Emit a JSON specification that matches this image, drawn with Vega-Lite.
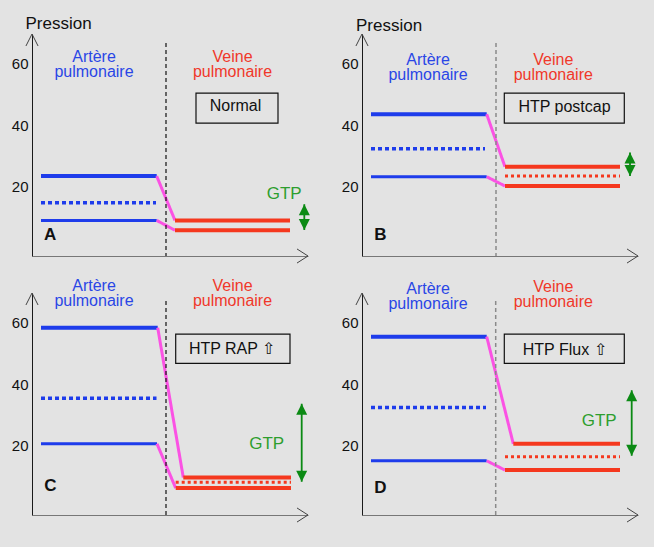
{
  "$schema": "https://vega.github.io/schema/vega-lite/v6.json",
  "background": "#e3e3e3",
  "padding": {"left": 11, "top": 15, "right": 15, "bottom": 25},
  "config": {"view": {"stroke": null}, "font": "Liberation Sans",
             "header": {"labels": false, "title": null, "labelFontSize": 0, "labelPadding": 0, "titlePadding": 0, "labelExpr": "''"},
             "headerFacet": {"labels": false, "title": null, "labelFontSize": 0, "labelPadding": 0, "titlePadding": 0, "labelExpr": "''"}},
  "data": {"values": [
    {"panel": "A", "type": "ligne", "serie": "sys", "x": 9, "x2": 124.7, "y": 23.5, "y2": 23.5},
    {"panel": "A", "type": "ligne", "serie": "moy", "x": 9, "x2": 124, "y": 14.9, "y2": 14.9},
    {"panel": "A", "type": "ligne", "serie": "dia", "x": 9, "x2": 124.7, "y": 9.2, "y2": 9.2},
    {"panel": "A", "type": "ligne", "serie": "trans", "x": 124.7, "x2": 143, "y": 23.5, "y2": 9.2},
    {"panel": "A", "type": "ligne", "serie": "trans", "x": 124.7, "x2": 143, "y": 9.2, "y2": 6.0},
    {"panel": "A", "type": "ligne", "serie": "v_haut", "x": 143, "x2": 258, "y": 9.2, "y2": 9.2},
    {"panel": "A", "type": "ligne", "serie": "v_bas", "x": 143, "x2": 258, "y": 6.0, "y2": 6.0},
    {"panel": "A", "type": "ligne", "serie": "sep_noir", "x": 134, "x2": 134, "y": 66.5, "y2": -2.3},
    {"panel": "A", "type": "ligne", "serie": "gtp", "x": 272.3, "x2": 272.3, "y": 14.4, "y2": 6.1},
    {"panel": "B", "type": "ligne", "serie": "sys", "x": 9, "x2": 124.7, "y": 43.5, "y2": 43.5},
    {"panel": "B", "type": "ligne", "serie": "moy", "x": 9, "x2": 123, "y": 32.3, "y2": 32.3},
    {"panel": "B", "type": "ligne", "serie": "dia", "x": 9, "x2": 124.7, "y": 23.3, "y2": 23.3},
    {"panel": "B", "type": "ligne", "serie": "trans", "x": 124.7, "x2": 143, "y": 43.5, "y2": 26.5},
    {"panel": "B", "type": "ligne", "serie": "trans", "x": 124.7, "x2": 143, "y": 23.3, "y2": 20.3},
    {"panel": "B", "type": "ligne", "serie": "v_haut", "x": 143, "x2": 258, "y": 26.5, "y2": 26.5},
    {"panel": "B", "type": "ligne", "serie": "v_moy", "x": 143, "x2": 258, "y": 23.5, "y2": 23.5},
    {"panel": "B", "type": "ligne", "serie": "v_bas", "x": 143, "x2": 258, "y": 20.3, "y2": 20.3},
    {"panel": "B", "type": "ligne", "serie": "sep_gris", "x": 134, "x2": 134, "y": 66.5, "y2": -2.3},
    {"panel": "B", "type": "ligne", "serie": "gtp", "x": 268, "x2": 268, "y": 31.1, "y2": 23.5},
    {"panel": "C", "type": "ligne", "serie": "sys", "x": 9, "x2": 125.7, "y": 58.2, "y2": 58.2},
    {"panel": "C", "type": "ligne", "serie": "moy", "x": 9, "x2": 124.5, "y": 35.4, "y2": 35.4},
    {"panel": "C", "type": "ligne", "serie": "dia", "x": 9, "x2": 125, "y": 20.7, "y2": 20.7},
    {"panel": "C", "type": "ligne", "serie": "trans", "x": 125.7, "x2": 151.3, "y": 58.2, "y2": 9.8},
    {"panel": "C", "type": "ligne", "serie": "trans", "x": 125, "x2": 143.7, "y": 20.7, "y2": 6.4},
    {"panel": "C", "type": "ligne", "serie": "v_haut", "x": 151.3, "x2": 259, "y": 9.8, "y2": 9.8},
    {"panel": "C", "type": "ligne", "serie": "v_moy", "x": 143.7, "x2": 259, "y": 8.3, "y2": 8.3},
    {"panel": "C", "type": "ligne", "serie": "v_bas", "x": 143.7, "x2": 259, "y": 6.4, "y2": 6.4},
    {"panel": "C", "type": "ligne", "serie": "sep_noir", "x": 134, "x2": 134, "y": 66.8, "y2": -2.3},
    {"panel": "C", "type": "ligne", "serie": "gtp", "x": 269.7, "x2": 269.7, "y": 33.6, "y2": 8.4},
    {"panel": "D", "type": "ligne", "serie": "sys", "x": 9, "x2": 124.7, "y": 55.3, "y2": 55.3},
    {"panel": "D", "type": "ligne", "serie": "moy", "x": 9, "x2": 124, "y": 32.4, "y2": 32.4},
    {"panel": "D", "type": "ligne", "serie": "dia", "x": 9, "x2": 124.7, "y": 15.2, "y2": 15.2},
    {"panel": "D", "type": "ligne", "serie": "trans", "x": 124.7, "x2": 151.3, "y": 55.3, "y2": 20.7},
    {"panel": "D", "type": "ligne", "serie": "trans", "x": 124.7, "x2": 143, "y": 15.2, "y2": 12.2},
    {"panel": "D", "type": "ligne", "serie": "v_haut", "x": 151.3, "x2": 258, "y": 20.7, "y2": 20.7},
    {"panel": "D", "type": "ligne", "serie": "v_moy", "x": 143, "x2": 258, "y": 16.5, "y2": 16.5},
    {"panel": "D", "type": "ligne", "serie": "v_bas", "x": 143, "x2": 258, "y": 12.2, "y2": 12.2},
    {"panel": "D", "type": "ligne", "serie": "sep_gris", "x": 133.7, "x2": 133.7, "y": 66.8, "y2": -2.3},
    {"panel": "D", "type": "ligne", "serie": "gtp", "x": 269.7, "x2": 269.7, "y": 38, "y2": 16.8},

    {"panel": "A", "type": "fleche", "serie": "fleche_y", "x": 0, "y": 69.4},
    {"panel": "A", "type": "fleche", "serie": "fleche_x", "x": 276, "y": -2.3},
    {"panel": "A", "type": "fleche", "serie": "haut", "x": 272.3, "y": 14.4},
    {"panel": "A", "type": "fleche", "serie": "bas", "x": 272.3, "y": 6.1},
    {"panel": "B", "type": "fleche", "serie": "fleche_y", "x": 0, "y": 69.4},
    {"panel": "B", "type": "fleche", "serie": "fleche_x", "x": 276, "y": -2.3},
    {"panel": "B", "type": "fleche", "serie": "haut", "x": 268, "y": 31.1},
    {"panel": "B", "type": "fleche", "serie": "bas", "x": 268, "y": 23.5},
    {"panel": "C", "type": "fleche", "serie": "fleche_y", "x": 0, "y": 69.4},
    {"panel": "C", "type": "fleche", "serie": "fleche_x", "x": 276, "y": -2.3},
    {"panel": "C", "type": "fleche", "serie": "haut", "x": 269.7, "y": 33.6},
    {"panel": "C", "type": "fleche", "serie": "bas", "x": 269.7, "y": 8.4},
    {"panel": "D", "type": "fleche", "serie": "fleche_y", "x": 0, "y": 69.4},
    {"panel": "D", "type": "fleche", "serie": "fleche_x", "x": 276, "y": -2.3},
    {"panel": "D", "type": "fleche", "serie": "haut", "x": 269.7, "y": 38},
    {"panel": "D", "type": "fleche", "serie": "bas", "x": 269.7, "y": 16.8},

    {"panel": "A", "type": "cadre", "x": 164, "x2": 246, "y": 50.3, "y2": 40.6},
    {"panel": "B", "type": "cadre", "x": 142.3, "x2": 262.3, "y": 50.3, "y2": 40.6},
    {"panel": "C", "type": "cadre", "x": 143.7, "x2": 258, "y": 56.1, "y2": 46.7},
    {"panel": "D", "type": "cadre", "x": 142.3, "x2": 262.3, "y": 56.1, "y2": 46.7},

    {"panel": "A", "type": "texte", "serie": "pression", "x": -6.5, "y": 70.9, "label": "Pression"},
    {"panel": "B", "type": "texte", "serie": "pression", "x": -6, "y": 70.5, "label": "Pression"},
    {"panel": "A", "type": "texte", "serie": "artere", "x": 62, "y": 60.2, "label": "Artère\npulmonaire"},
    {"panel": "A", "type": "texte", "serie": "veine", "x": 200.5, "y": 60.2, "label": "Veine\npulmonaire"},
    {"panel": "B", "type": "texte", "serie": "artere", "x": 66, "y": 59.3, "label": "Artère\npulmonaire"},
    {"panel": "B", "type": "texte", "serie": "veine", "x": 191.3, "y": 59.3, "label": "Veine\npulmonaire"},
    {"panel": "C", "type": "texte", "serie": "artere", "x": 62, "y": 70.2, "label": "Artère\npulmonaire"},
    {"panel": "C", "type": "texte", "serie": "veine", "x": 200.5, "y": 70.2, "label": "Veine\npulmonaire"},
    {"panel": "D", "type": "texte", "serie": "artere", "x": 66, "y": 69.1, "label": "Artère\npulmonaire"},
    {"panel": "D", "type": "texte", "serie": "veine", "x": 191.3, "y": 69.6, "label": "Veine\npulmonaire"},
    {"panel": "A", "type": "texte", "serie": "lettre", "x": 12, "y": 2.8, "label": "A"},
    {"panel": "B", "type": "texte", "serie": "lettre", "x": 12.3, "y": 2.8, "label": "B"},
    {"panel": "C", "type": "texte", "serie": "lettre", "x": 12.3, "y": 5.3, "label": "C"},
    {"panel": "D", "type": "texte", "serie": "lettre", "x": 12.3, "y": 4.9, "label": "D"},
    {"panel": "A", "type": "texte", "serie": "gtp", "x": 252.2, "y": 16.0, "label": "GTP"},
    {"panel": "C", "type": "texte", "serie": "gtp", "x": 234.7, "y": 18.9, "label": "GTP"},
    {"panel": "D", "type": "texte", "serie": "gtp", "x": 237.2, "y": 26.5, "label": "GTP"},
    {"panel": "A", "type": "texte", "serie": "boite", "x": 203.5, "y": 46.1, "label": "Normal"},
    {"panel": "B", "type": "texte", "serie": "boite", "x": 202.5, "y": 45.8, "label": "HTP postcap"},
    {"panel": "C", "type": "texte", "serie": "boite", "x": 200, "y": 51.2, "label": "HTP RAP ⇧"},
    {"panel": "D", "type": "texte", "serie": "boite", "x": 202.7, "y": 51.1, "label": "HTP Flux ⇧"}
  ]},
  "facet": {"field": "panel", "type": "nominal", "title": null, "header": {"labels": false, "title": null, "labelFontSize": 0, "labelPadding": 0, "titlePadding": 0, "labelExpr": "''"}},
  "columns": 2,
  "spacing": {"row": 37, "column": 54},
  "bounds": "flush",
  "resolve": {"axis": {"x": "independent", "y": "independent"}},
  "spec": {
    "width": 276,
    "height": 222,
    "encoding": {
      "x": {"field": "x", "type": "quantitative",
            "scale": {"domain": [0, 276], "nice": false, "zero": false},
            "axis": {"labels": false, "ticks": false, "grid": false, "title": null, "domainColor": "#777777", "domainWidth": 1}},
      "y": {"field": "y", "type": "quantitative",
            "scale": {"domain": [-2.3, 69.4], "nice": false, "zero": false},
            "axis": {"values": [20, 40, 60], "ticks": false, "grid": false, "title": null, "domainColor": "#1a1a1a", "domainWidth": 1,
                     "labelFont": "Liberation Sans", "labelFontSize": 15, "labelColor": "#111111", "labelPadding": 4}}
    },
    "layer": [
      {
        "transform": [{"filter": "datum.type === 'ligne'"}],
        "mark": {"type": "rule"},
        "encoding": {
          "x2": {"field": "x2"},
          "y2": {"field": "y2"},
          "color": {"field": "serie", "type": "nominal", "legend": null,
                    "scale": {"domain": ["sys", "moy", "dia", "trans", "v_haut", "v_moy", "v_bas", "sep_noir", "sep_gris", "gtp"],
                              "range": ["#1e3ceb", "#1e3ceb", "#1e3ceb", "#fb52e4", "#f5381e", "#f5381e", "#f5381e", "#111111", "#8a8a8a", "#0b8a14"]}},
          "strokeWidth": {"field": "serie", "type": "nominal", "legend": null,
                    "scale": {"type": "ordinal", "domain": ["sys", "moy", "dia", "trans", "v_haut", "v_moy", "v_bas", "sep_noir", "sep_gris", "gtp"],
                              "range": [4, 3.5, 3, 3, 4, 3, 4, 1.2, 1.5, 1.8]}},
          "strokeDash": {"field": "serie", "type": "nominal", "legend": null,
                    "scale": {"domain": ["sys", "moy", "dia", "trans", "v_haut", "v_moy", "v_bas", "sep_noir", "sep_gris", "gtp"],
                              "range": [[1, 0], [4, 3], [1, 0], [1, 0], [1, 0], [3, 3], [1, 0], [4, 3], [4, 3], [1, 0]]}}
        }
      },
      {
        "transform": [{"filter": "datum.type === 'cadre'"}],
        "mark": {"type": "rect", "filled": false, "color": "#111111", "strokeWidth": 1.2},
        "encoding": {"x2": {"field": "x2"}, "y2": {"field": "y2"}}
      },
      {
        "transform": [{"filter": "datum.type === 'fleche' && (datum.serie === 'fleche_x' || datum.serie === 'fleche_y')"}],
        "mark": {"type": "point", "filled": false, "color": "#444444", "size": 484, "strokeWidth": 1, "opacity": 1},
        "encoding": {
          "shape": {"field": "serie", "type": "nominal", "legend": null,
                    "scale": {"domain": ["fleche_x", "fleche_y", "haut", "bas"],
                              "range": ["M-1,-0.64L0,0L-1,0.64", "M-0.55,1.09L0,0L0.55,1.09", "M0,0L0.5,1L-0.5,1Z", "M0,0L0.5,-1L-0.5,-1Z"]}}
        }
      },
      {
        "transform": [{"filter": "datum.type === 'fleche' && (datum.serie === 'haut' || datum.serie === 'bas')"}],
        "mark": {"type": "point", "filled": true, "color": "#0b8a14", "size": 484, "opacity": 1},
        "encoding": {
          "shape": {"field": "serie", "type": "nominal", "legend": null,
                    "scale": {"domain": ["fleche_x", "fleche_y", "haut", "bas"],
                              "range": ["M-1,-0.64L0,0L-1,0.64", "M-0.55,1.09L0,0L0.55,1.09", "M0,0L0.5,1L-0.5,1Z", "M0,0L0.5,-1L-0.5,-1Z"]}}
        }
      },
      {
        "transform": [{"filter": "datum.type === 'texte' && datum.serie === 'artere'"}],
        "mark": {"type": "text", "font": "Liberation Sans", "fontSize": 16, "color": "#2a46e6", "align": "center", "baseline": "alphabetic", "lineBreak": "\n", "lineHeight": 15},
        "encoding": {"text": {"field": "label"}}
      },
      {
        "transform": [{"filter": "datum.type === 'texte' && datum.serie === 'veine'"}],
        "mark": {"type": "text", "font": "Liberation Sans", "fontSize": 16, "color": "#f0382a", "align": "center", "baseline": "alphabetic", "lineBreak": "\n", "lineHeight": 15},
        "encoding": {"text": {"field": "label"}}
      },
      {
        "transform": [{"filter": "datum.type === 'texte' && datum.serie === 'lettre'"}],
        "mark": {"type": "text", "font": "Liberation Sans", "fontSize": 17, "fontWeight": "bold", "color": "#111111", "align": "left", "baseline": "alphabetic"},
        "encoding": {"text": {"field": "label"}}
      },
      {
        "transform": [{"filter": "datum.type === 'texte' && datum.serie === 'gtp'"}],
        "mark": {"type": "text", "font": "Liberation Sans", "fontSize": 17, "color": "#2e9e2e", "align": "center", "baseline": "alphabetic"},
        "encoding": {"text": {"field": "label"}}
      },
      {
        "transform": [{"filter": "datum.type === 'texte' && datum.serie === 'boite'"}],
        "mark": {"type": "text", "font": "Liberation Sans", "fontSize": 16, "color": "#111111", "align": "center", "baseline": "middle"},
        "encoding": {"text": {"field": "label"}}
      },
      {
        "transform": [{"filter": "datum.type === 'texte' && datum.serie === 'pression'"}],
        "mark": {"type": "text", "font": "Liberation Sans", "fontSize": 17, "color": "#111111", "align": "left", "baseline": "alphabetic"},
        "encoding": {"text": {"field": "label"}}
      }
    ]
  }
}
